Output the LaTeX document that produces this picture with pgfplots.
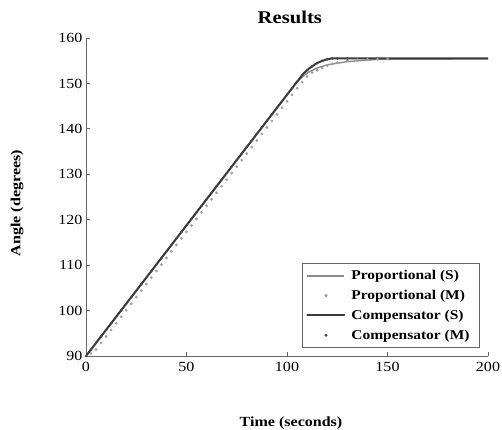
\documentclass[border=0pt]{standalone}
\usepackage{fontspec}
\setmainfont{Liberation Serif}[FakeStretch=1.15]
\usepackage{pgfplots}
\pgfplotsset{compat=1.18}

\definecolor{propline}{HTML}{8C8C8C}
\definecolor{propdot}{HTML}{A0A0A0}
\definecolor{compline}{HTML}{3A3A3A}
\definecolor{compdot}{HTML}{484848}

\pgfplotsset{
    longline legend/.style={legend image code/.code={\draw[##1] (0bp,0bp) -- (37bp,0bp);}},
    dot legend/.style={legend image code/.code={\draw[mark repeat=2,mark phase=2,##1] plot coordinates {(0bp,0bp) (18.5bp,0bp) (37bp,0bp)};}},
}

\begin{document}
\begin{tikzpicture}
% page frame: 502 x 430, axis box 402 x 318 placed at (86,74) from lower left
\path[use as bounding box] (-86bp,-74bp) rectangle (416bp,356bp);
\begin{axis}[
    scale only axis,
    width=402bp, height=318bp,
    xmin=0, xmax=200, ymin=90, ymax=160,
    xtick={0,50,...,200}, ytick={90,100,...,160},
    axis x line*=bottom, axis y line*=left,
    axis line style={-, draw=black!60, line width=0.9bp},
    tick style={draw=black!60, line width=0.8bp},
    major tick length=4bp,
    tick align=inside,
    /pgf/number format/assume math mode=true,
    ticklabel style={font=\fontsize{14}{16}\selectfont},
    xticklabel style={yshift=-3bp},
    title={Results},
    title style={font=\bfseries\fontsize{18}{20}\selectfont, at={(axis description cs:0.507,1)}, anchor=base, yshift=9bp},
    xlabel={Time (seconds)},
    xlabel style={font=\bfseries\fontsize{14}{16}\selectfont, at={(axis description cs:0.51,0)}, anchor=base, yshift=-70bp},
    ylabel={Angle (degrees)},
    ylabel style={font=\bfseries\fontsize{14}{16}\selectfont, at={(axis description cs:-0.1716,0.481)}, anchor=center},
    legend style={font=\bfseries\fontsize{13.5}{15}\selectfont, draw=black!60, line width=0.8bp,
        at={(axis description cs:0.98,0.025)}, anchor=south east, row sep=5bp,
        inner xsep=4bp, inner ysep=5bp, nodes={inner xsep=6bp}},
    legend cell align=left,
]
% Proportional (S)
\addplot[propline, line width=1.4bp, line join=round, longline legend]
coordinates {
    (0,90) (105,150.4) (110,152.3) (115,153.4) (120,154.1) (130,154.8)
    (145,155.3) (200,155.4)
};
\addlegendentry{Proportional (S)}
% Proportional (M)
\addplot[only marks, mark=*, mark size=1.2bp, propdot, dot legend]
coordinates {
    (0,90) (2.5,90.6) (5,91.44) (7.5,92.88) (10,94.31) (12.5,95.75)
    (15,97.19) (17.5,98.63) (20,100.06) (22.5,101.5) (25,102.94)
    (27.5,104.38) (30,105.81) (32.5,107.25) (35,108.69) (37.5,110.13)
    (40,111.56) (42.5,113) (45,114.44) (47.5,115.88) (50,117.31)
    (52.5,118.75) (55,120.19) (57.5,121.63) (60,123.06) (62.5,124.5)
    (65,125.94) (67.5,127.38) (70,128.81) (72.5,130.25) (75,131.69)
    (77.5,133.13) (80,134.56) (82.5,136) (85,137.44) (87.5,138.88)
    (90,140.31) (92.5,141.75) (95,143.19) (97.5,144.63) (100,146.06)
    (102.5,147.5) (105,148.94) (107.5,150.3) (110,151.5) (112.5,152.4)
    (115,152.9) (117.5,153.4) (120,153.9) (122.5,154.3) (125,154.6)
    (130,155) (135,155.2) (140,155.3) (145,155.3) (150,155.4)
};
\addlegendentry{Proportional (M)}
% Compensator (S)
\addplot[compline, line width=2bp, line join=round, line cap=round, longline legend]
coordinates {
    (0,90) (108,152.1) (111,153.3) (115,154.5) (119,155.2) (122,155.5) (200,155.5)
};
\addlegendentry{Compensator (S)}
% Compensator (M)
\addplot[only marks, mark=*, mark size=1.1bp, compdot, dot legend]
coordinates {
    (0,90) (2.5,91.44) (5,92.88) (7.5,94.31) (10,95.75) (12.5,97.19)
    (15,98.63) (17.5,100.06) (20,101.5) (22.5,102.94) (25,104.38)
    (27.5,105.81) (30,107.25) (32.5,108.69) (35,110.13) (37.5,111.56)
    (40,113) (42.5,114.44) (45,115.88) (47.5,117.31) (50,118.75)
    (52.5,120.19) (55,121.63) (57.5,123.06) (60,124.5) (62.5,125.94)
    (65,127.38) (67.5,128.81) (70,130.25) (72.5,131.69) (75,133.13)
    (77.5,134.56) (80,136) (82.5,137.44) (85,138.88) (87.5,140.31)
    (90,141.75) (92.5,143.19) (95,144.63) (97.5,146.06) (100,147.5)
    (102.5,148.94) (105,150.38) (107.5,151.8) (110,152.9) (112.5,153.8)
    (115,154.5) (117.5,155) (120,155.3) (122.5,155.5) (125,155.5) (130,155.5)
};
\addlegendentry{Compensator (M)}
\end{axis}
\end{tikzpicture}
\end{document}
